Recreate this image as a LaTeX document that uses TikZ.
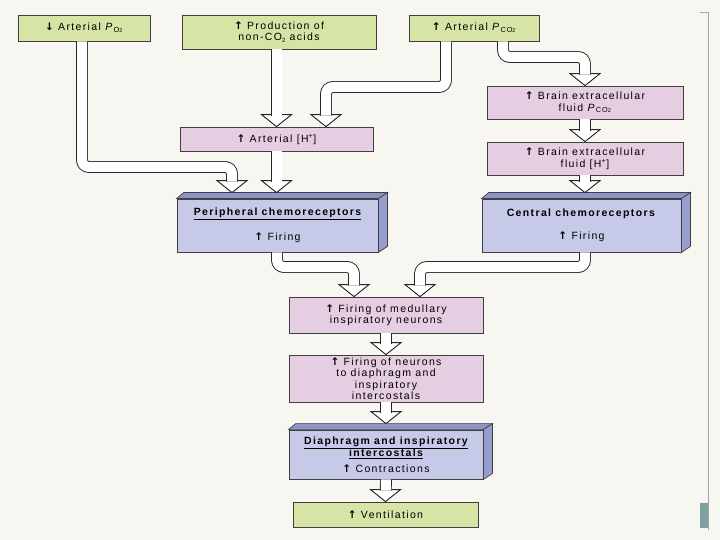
\documentclass[tikz,border=0pt]{standalone}
\usepackage{fontspec}
\setmainfont{Liberation Sans}[LetterSpace=13]
\newfontfamily\arrowfont{DejaVu Sans}
\usetikzlibrary{positioning}
\definecolor{paper}{RGB}{248,246,240}
\definecolor{leaf}{RGB}{214,228,166}
\definecolor{rose}{RGB}{230,206,226}
\definecolor{lilac}{RGB}{198,202,232}
\definecolor{lilactop}{RGB}{140,148,200}
\definecolor{lilacside}{RGB}{150,158,206}
\definecolor{edgeteal}{RGB}{125,160,160}
\newcommand{\pgas}[1]{\textit{P}\textsubscript{#1{\fontsize{5.5}{6}\selectfont2}}}
\newcommand{\rise}{{\arrowfont\bfseries ↑}}
\newcommand{\fall}{{\arrowfont\bfseries ↓}}
\newcommand{\hollowtip}[1]{\filldraw[tiphead] ([shift={(-15,-12)}]#1) -- (#1) -- ([shift={(15,-12)}]#1) -- cycle;}
\newcommand{\slab}[1]{%
\filldraw[fill=lilactop,draw=black!75,line width=.7pt] (#1.north west) -- ([shift={(7,-6)}]#1.north west) -- ([shift={(9,-6)}]#1.north east) -- (#1.north east) -- cycle;
\filldraw[fill=lilacside,draw=black!75,line width=.7pt] (#1.north east) -- ([shift={(9,-6)}]#1.north east) -- ([shift={(9,-6)}]#1.south east) -- (#1.south east) -- cycle;}

\begin{document}
\begin{tikzpicture}[x=1pt,y=-1pt,
  box/.style={draw=black!75,line width=.8pt,align=center,inner sep=2pt,font=\fontsize{10.5}{11.5}\selectfont},
  leafbox/.style={box,fill=leaf},
  rosebox/.style={box,fill=rose},
  lilacbox/.style={box,fill=lilac},
  hollow/.style={draw=black!85,line width=.9pt,double=white,double distance=10pt,rounded corners=7pt,shorten >=11pt},
  tiphead/.style={fill=white,draw=black!85,line width=.9pt}]
\useasboundingbox[fill=paper] (0,0) rectangle (720,540);
\draw[gray!70,line width=.8pt] (700,12) -- (708,12) -- (708,530);
\fill[edgeteal] (700,503) rectangle (708,528);

\node[leafbox,minimum width=132,minimum height=26] (po2) at (84,28) {\fall\ Arterial \pgas{O}};
\node[leafbox,minimum width=194,minimum height=34] (acids) at (279,32) {\rise\ Production of\\non-CO{\fontsize{6}{6}\selectfont\raisebox{-2pt}{2}} acids};
\node[leafbox,minimum width=130,minimum height=26] (pco2) at (474,28) {\rise\ Arterial \pgas{CO}};
\node[rosebox,minimum width=193,minimum height=24] (arth) at (276.5,139) {\rise\ Arterial [H\textsuperscript{+}]};
\node[rosebox,minimum width=196,minimum height=33] (bpco2) at (585,102.5) {\rise\ Brain extracellular\\fluid \pgas{CO}};
\node[rosebox,minimum width=196,minimum height=33] (bh) at (585,158.5) {\rise\ Brain extracellular\\fluid [H\textsuperscript{+}]};
\node[lilacbox,minimum width=201,minimum height=53] (periph) at (277.5,225.5) {\textbf{\underline{Peripheral chemoreceptors}}\\[12pt]\rise\ Firing};
\node[lilacbox,minimum width=199,minimum height=53] (central) at (581.5,225.5) {\textbf{Central chemoreceptors}\\[12pt]\rise\ Firing};
\node[rosebox,minimum width=194,minimum height=36] (medul) at (386,315) {\rise\ Firing of medullary\\inspiratory neurons};
\node[rosebox,minimum width=194,minimum height=47] (neur) at (386,378.5) {\rise\ Firing of neurons\\to diaphragm and\\inspiratory\\intercostals};
\node[lilacbox,minimum width=194,minimum height=49] (diaph) at (386,454.5) {\textbf{\underline{Diaphragm and inspiratory}}\\\textbf{\underline{intercostals}}\\[4pt]\rise\ Contractions};
\node[leafbox,minimum width=185,minimum height=25] (vent) at (385.5,514.5) {\rise\ Ventilation};
\slab{periph}
\slab{central}
\slab{diaph}

\coordinate (t1) at ([shift={(-45.5,-6)}]periph.north);
\coordinate (t2) at (arth.north);
\coordinate (t3) at ([xshift=49.5pt]arth.north);
\coordinate (t4) at (bpco2.north);
\coordinate (t5) at (bh.north);
\coordinate (t6) at ([shift={(-1,-6)}]periph.north);
\coordinate (t7) at ([shift={(3.5,-6)}]central.north);
\coordinate (t8) at ([xshift=-32pt]medul.north);
\coordinate (t9) at ([xshift=34pt]medul.north);
\coordinate (t10) at (neur.north);
\coordinate (t11) at ([shift={(0,-6)}]diaph.north);
\coordinate (t12) at (vent.north);
\foreach \n in {1,...,12} {\hollowtip{t\n}}

\draw[hollow] ([xshift=-2pt]po2.south) |- (232,167) -- (t1);
\draw[hollow] (arth.north |- acids.south) -- (t2);
\draw[hollow] ([xshift=-28pt]pco2.south) |- (326,87) -- (t3);
\draw[hollow] ([xshift=29pt]pco2.south) |- (585,57) -- (t4);
\draw[hollow] (bpco2.south) -- (t5);
\draw[hollow] (arth.south) -- (t6);
\draw[hollow] (bh.south) -- (t7);
\draw[hollow] ([xshift=-.5pt]periph.south) |- (354,267) -- (t8);
\draw[hollow] ([xshift=3.5pt]central.south) |- (420,267) -- (t9);
\draw[hollow] (medul.south) -- (t10);
\draw[hollow] (neur.south) -- (t11);
\draw[hollow] (diaph.south) -- (t12);
\end{tikzpicture}
\end{document}
